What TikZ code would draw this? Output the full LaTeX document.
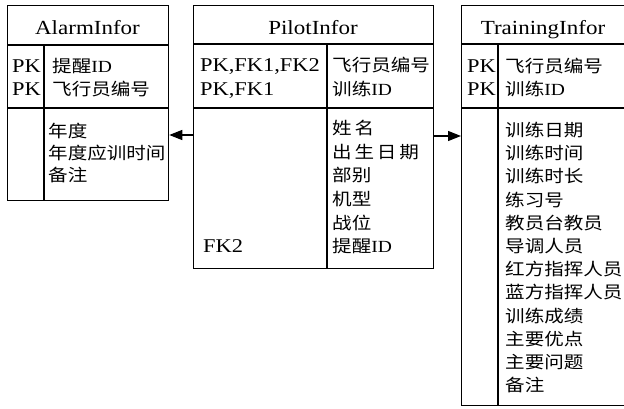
\documentclass[tikz,border=0pt]{standalone}
\usepackage{fontspec}
\setmainfont{Liberation Serif}[FakeStretch=1.15]
\newfontfamily\cjk{Noto Sans CJK SC}[FakeStretch=1.15]
\usetikzlibrary{arrows.meta}

\tikzset{
  tablebox/.style={draw, line width=1.3pt, inner sep=0pt, anchor=north west},
  rule/.style={line width=1.3pt},
  tabletitle/.style={font=\fontsize{20}{24}\selectfont, anchor=base, inner sep=0pt},
  keycol/.style={font=\fontsize{19.5}{22}\selectfont, anchor=base west, inner sep=0pt},
  field/.style={font=\fontsize{17}{20}\cjk, anchor=base west, inner sep=0pt},
  link/.style={line width=1.3pt, -{Triangle[length=13pt,width=10pt]}},
}

\begin{document}
\begin{tikzpicture}[x=1pt,y=-1pt]
\clip (0,0) rectangle (624,409);
\fill[white] (0,0) rectangle (624,409);

% ---- table frames ----
\node[tablebox, minimum width=161pt, minimum height=195pt] (alarm) at (7,5) {};
\node[tablebox, minimum width=240pt, minimum height=263pt] (pilot) at (193,5) {};
\node[tablebox, minimum width=165pt, minimum height=400pt] (training) at (461,5) {};

% ---- header and key-section rules, key column separators ----
\draw[rule] (alarm.west |- 0,45) -- (alarm.east |- 0,45);
\draw[rule] (alarm.west |- 0,108) -- (alarm.east |- 0,108);
\draw[rule] (44,45) -- (alarm.south -| 44,0);

\draw[rule] (pilot.west |- 0,44) -- (pilot.east |- 0,44);
\draw[rule] (pilot.west |- 0,108) -- (pilot.east |- 0,108);
\draw[rule] (327,44) -- (pilot.south -| 327,0);

\draw[rule] (training.west |- 0,44) -- (training.east |- 0,44);
\draw[rule] (training.west |- 0,108) -- (training.east |- 0,108);
\draw[rule] (498,44) -- (training.south -| 498,0);

% ---- titles ----
\node[tabletitle] (alarmT) at (87.5,35) {AlarmInfor};
\node[tabletitle] (pilotT) at (313,34.5) {PilotInfor};
\node[tabletitle] (trainingT) at (543,34.5) {TrainingInfor};

% ---- AlarmInfor ----
\node[keycol] (ak1) at (12,72.5) {PK};
\node[keycol] (ak2) at (12,95.5) {PK};
\node[field] (af1) at (52,72.5) {提醒{\rmfamily ID}};
\node[field] (af2) at (52,95.5) {飞行员编号};
\foreach \t [count=\i] in {年度, 年度应训时间, 备注}
  \node[field] (ab\i) at (48,{138+22*(\i-1)}) {\t};

% ---- PilotInfor ----
\node[keycol] (pk1) at (200,72) {PK,FK1,FK2};
\node[keycol] (pk2) at (200,96) {PK,FK1};
\node[field] (pf1) at (332,72) {飞行员编号};
\node[field] (pf2) at (332,96) {训练{\rmfamily ID}};
\foreach \t [count=\i] in {姓\,名, 出\,生\,日\,期, 部别, 机型, 战位, 提醒{\rmfamily ID}}
  \node[field] (pb\i) at (332,{135+23.5*(\i-1)}) {\t};
\node[keycol] (pk3) at (203,252.5) {FK2};

% ---- TrainingInfor ----
\node[keycol] (tk1) at (467,72.5) {PK};
\node[keycol] (tk2) at (467,96) {PK};
\node[field] (tf1) at (505,72.5) {飞行员编号};
\node[field] (tf2) at (505,96) {训练{\rmfamily ID}};
\foreach \t [count=\i] in {训练日期, 训练时间, 训练时长, 练习号, 教员台教员, 导调人员,
    红方指挥人员, 蓝方指挥人员, 训练成绩, 主要优点, 主要问题, 备注}
  \node[field] (tb\i) at (505,{136.5+23.2*(\i-1)}) {\t};

% ---- relationships ----
\draw[link] (pilot.west |- 0,135) -- (alarm.east |- 0,135);
\draw[link] (pilot.east |- 0,136) -- (training.west |- 0,136);
\end{tikzpicture}
\end{document}
